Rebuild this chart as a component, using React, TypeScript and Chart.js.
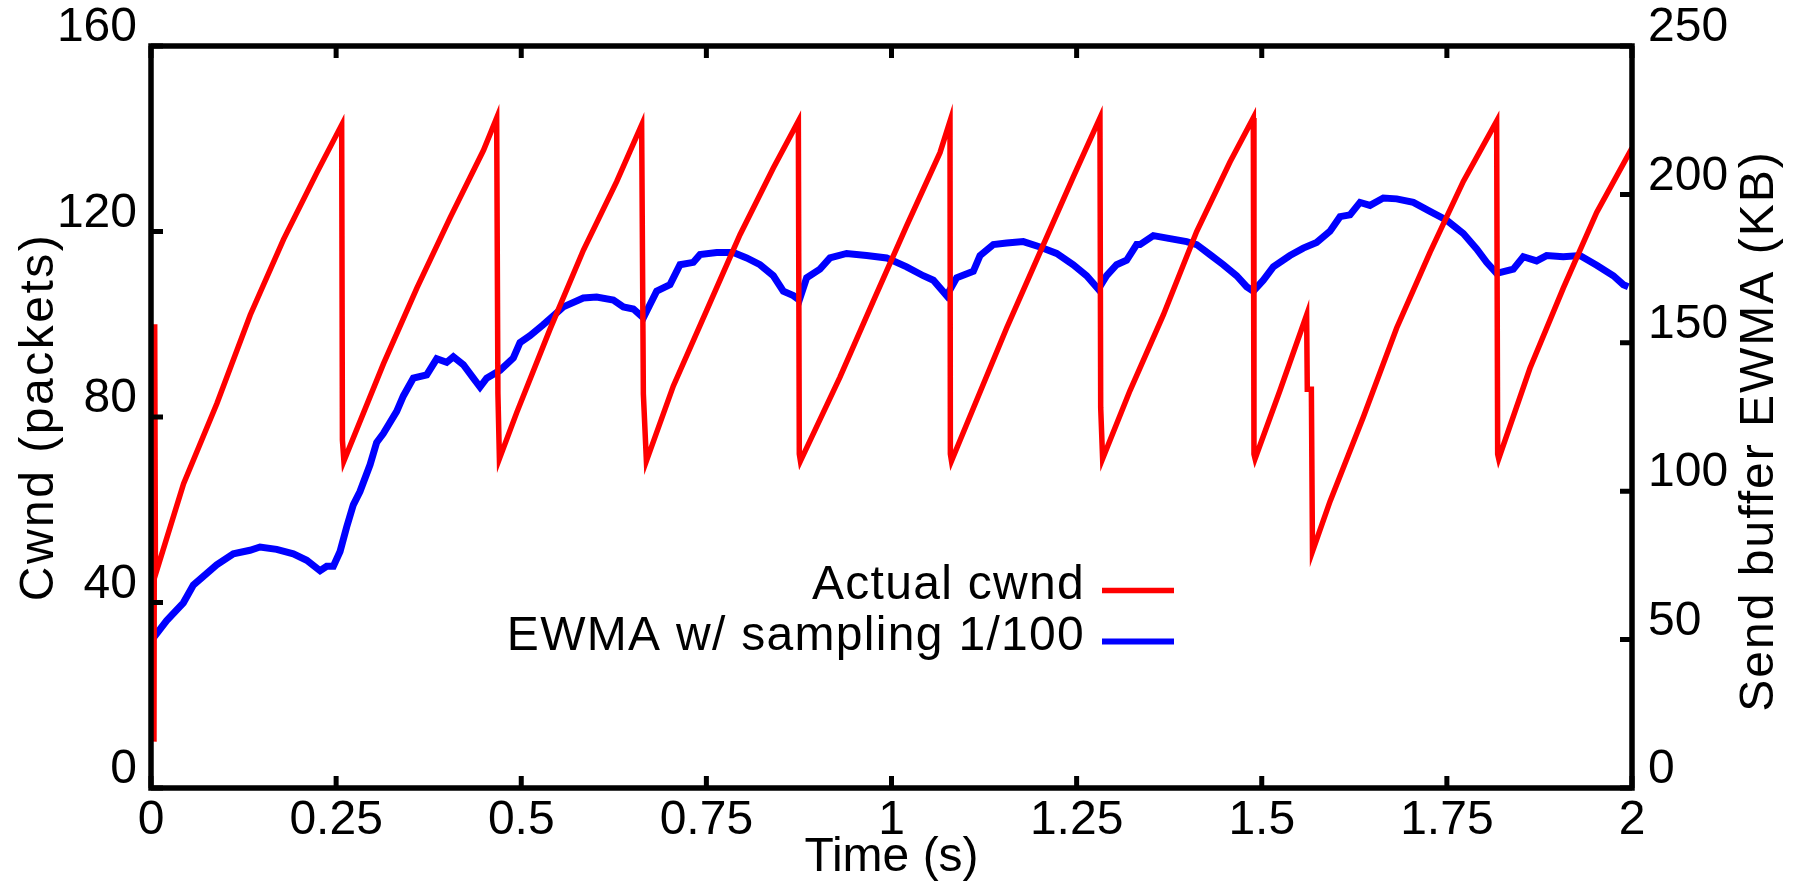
import React, { useEffect, useRef } from 'react';
import { Chart, registerables } from 'chart.js';

Chart.register(...registerables);

// ---- Data ----
const cwndTime = [
  0.004, 0.005, 0.006, 0.044, 0.089, 0.134, 0.179, 0.224, 0.2575,
  0.2585, 0.2605,
  0.314, 0.359, 0.404, 0.449, 0.4668,
  0.4685, 0.4705,
  0.494, 0.539, 0.584, 0.629, 0.6626,
  0.6649, 0.669,
  0.7054, 0.7504, 0.7954, 0.8404, 0.8742,
  0.8755, 0.877,
  0.9304, 0.9754, 1.0204, 1.0655, 1.079,
  1.0795, 1.081,
  1.1105, 1.1555, 1.2005, 1.2455, 1.2815,
  1.2825, 1.2851,
  1.3221, 1.3671, 1.4121, 1.4571, 1.4886,
  1.4895, 1.491,
  1.5246, 1.5606, 1.5615, 1.567, 1.5685,
  1.5922, 1.6372, 1.6822, 1.7272, 1.7722, 1.8172,
  1.8186, 1.82,
  1.8622, 1.9072, 1.9523, 2.0,
];
const cwndValues = [
  10, 100, 46, 65.6, 82.9, 102, 118.3, 132.7, 143,
  75, 70.5,
  91.5, 107.8, 123, 137.5, 144.5,
  85, 71,
  81, 99, 116, 130.8, 143,
  85, 70.5,
  86.7, 103, 119.3, 133.7, 143.8,
  72, 70.5,
  88.6, 105, 121.2, 137, 143.8,
  72, 70.5,
  81.9, 99.2, 115.5, 131.8, 144.5,
  82, 71,
  85.7, 102, 120, 135, 144.5,
  72, 71,
  85.7, 102, 86, 86, 51,
  61.8, 80, 99.2, 115.5, 130.8, 143.8,
  72, 71,
  90.5, 107.8, 124.1, 138,
];

const ewmaTime = [
  0.003, 0.0212, 0.0437, 0.0572, 0.0887, 0.1112, 0.1337, 0.1472, 0.1697, 0.1922,
  0.2103, 0.2283, 0.2373, 0.2463, 0.2553, 0.2642, 0.2732, 0.2822, 0.2958, 0.3047,
  0.3137, 0.3318, 0.3408, 0.3543, 0.3723, 0.3858, 0.3993, 0.4083, 0.4218, 0.4353,
  0.4443, 0.4533, 0.4713, 0.4893, 0.4983, 0.5118, 0.5298, 0.5433, 0.5568, 0.5838,
  0.6018, 0.6244, 0.6379, 0.6514, 0.6649, 0.6739, 0.6829, 0.7009, 0.7144, 0.7324,
  0.7414, 0.7639, 0.7864, 0.8044, 0.8224, 0.8404, 0.8539, 0.8674, 0.8755, 0.8854,
  0.9034, 0.9169, 0.9394, 0.9664, 0.9934, 1.0204, 1.0429, 1.0565, 1.0745, 1.088,
  1.1105, 1.1195, 1.1375, 1.1555, 1.178, 1.2005, 1.223, 1.2455, 1.2635, 1.2793,
  1.2905, 1.304, 1.3175, 1.331, 1.3356, 1.3536, 1.3761, 1.3986, 1.4121, 1.4301,
  1.4481, 1.4661, 1.4796, 1.4886, 1.5021, 1.5156, 1.5381, 1.5561, 1.5741, 1.5922,
  1.6057, 1.6192, 1.6327, 1.6462, 1.6642, 1.6822, 1.7047, 1.7272, 1.7497, 1.7722,
  1.7902, 1.8037, 1.8172, 1.8397, 1.8532, 1.8712, 1.8847, 1.9072, 1.9297, 1.9523,
  1.9748, 1.9883, 1.995,
];
const ewmaValues = [
  50.5, 56.4, 62.4, 68.4, 75.2, 78.9, 80.1, 81.2, 80.4, 78.9,
  76.7, 73.2, 74.7, 74.7, 79.7, 87.9, 95.4, 99.9, 108.9, 116.4,
  119.4, 126.9, 132.1, 138.1, 139.2, 144.6, 143.4, 145.3, 142.6, 138.1,
  135.1, 138.1, 140.7, 144.9, 150.1, 152.4, 156.1, 159.1, 162.1, 165.1,
  165.4, 164.4, 162.1, 161.4, 158.4, 162.9, 167.4, 169.6, 176.3, 177.1,
  179.7, 180.4, 180.4, 178.6, 176.3, 172.6, 167.4, 165.9, 164.4, 171.9,
  174.8, 178.6, 180.1, 179.4, 178.6, 175.6, 172.6, 171.1, 165.9, 171.9,
  174.1, 179.4, 183.1, 183.6, 184.1, 182.3, 180.1, 176.3, 172.6, 168.1,
  172.6, 176.3, 177.8, 183.1, 183.1, 186.1, 185.1, 184.1, 183.1, 179.7,
  176.3, 172.6, 168.9, 167.4, 171.1, 175.6, 179.4, 181.9, 183.8, 187.6,
  192.5, 193.1, 197.3, 196.3, 198.8, 198.5, 197.3, 194.3, 191.3, 186.8,
  181.6, 177.1, 173.4, 174.8, 179.0, 177.6, 179.4, 179.0, 179.4, 176.1,
  172.6, 169.6, 168.9,
];

const xTicks = [0, 0.25, 0.5, 0.75, 1, 1.25, 1.5, 1.75, 2];
const yTicks = [0, 40, 80, 120, 160];
const y2Ticks = [0, 50, 100, 150, 200, 250];
const seriesLabels = ['Actual cwnd', 'EWMA w/ sampling 1/100'];
const seriesColors = ['#ff0000', '#0000ff'];
const xTitle = 'Time (s)';
const yTitle = 'Cwnd (packets)';
const y2Title = 'Send buffer EWMA (KB)';

const FONT_FAMILY = '"Liberation Sans", Arial, sans-serif';
const FONT_SIZE = 48;

function drawVerticalTitle(ctx: any, text: string, x: number, y: number, spacing: number) {
  ctx.save();
  ctx.translate(x, y);
  ctx.rotate(-Math.PI / 2);
  ctx.font = `${FONT_SIZE}px ${FONT_FAMILY}`;
  try { ctx.letterSpacing = `${spacing}px`; } catch (e) { /* ignore */ }
  ctx.textAlign = 'center';
  ctx.textBaseline = 'middle';
  ctx.fillStyle = '#000';
  ctx.fillText(text, 0, 0);
  ctx.restore();
}

const framePlugin = {
  id: 'gnuFrame',
  afterDatasetsDraw(chart: any) {
    const { ctx, chartArea: a, scales } = chart;
    const tick = 12;
    ctx.save();
    ctx.strokeStyle = '#000';
    ctx.lineCap = 'butt';
    ctx.lineWidth = 5;
    ctx.beginPath();
    scales.x.ticks.forEach((t: any) => {
      const px = scales.x.getPixelForValue(t.value);
      ctx.moveTo(px, a.bottom);
      ctx.lineTo(px, a.bottom - tick);
      ctx.moveTo(px, a.top);
      ctx.lineTo(px, a.top + tick);
    });
    scales.y.ticks.forEach((t: any) => {
      const py = scales.y.getPixelForValue(t.value);
      ctx.moveTo(a.left, py);
      ctx.lineTo(a.left + tick, py);
    });
    scales.y2.ticks.forEach((t: any) => {
      const py = scales.y2.getPixelForValue(t.value);
      ctx.moveTo(a.right, py);
      ctx.lineTo(a.right - tick, py);
    });
    ctx.stroke();
    ctx.lineWidth = 5.5;
    ctx.lineJoin = 'miter';
    ctx.strokeRect(a.left, a.top, a.right - a.left, a.bottom - a.top);

    // Legend (gnuplot style: right-aligned text, sample line on the right)
    ctx.save();
    ctx.font = `${FONT_SIZE}px ${FONT_FAMILY}`;
    try { ctx.letterSpacing = '1.3px'; } catch (e) { /* ignore */ }
    ctx.fillStyle = '#000';
    ctx.textAlign = 'right';
    ctx.textBaseline = 'alphabetic';
    const textRight = 1085;
    const lineStart = 1102;
    const lineEnd = 1174;
    const baseY = 599;
    const rowGap = 51;
    chart.data.datasets.forEach((ds: any, i: number) => {
      const by = baseY + i * rowGap;
      ctx.fillText(ds.label, textRight, by);
      ctx.strokeStyle = ds.borderColor;
      ctx.lineWidth = i === 0 ? 5.5 : 6;
      ctx.beginPath();
      ctx.moveTo(lineStart, by - 8.5);
      ctx.lineTo(lineEnd, by - 8.5);
      ctx.stroke();
    });
    ctx.restore();
    ctx.restore();

    // Axis titles for the two vertical axes, both reading bottom to top
    drawVerticalTitle(ctx, yTitle, 40, (a.top + a.bottom) / 2, 2.5);
    drawVerticalTitle(ctx, y2Title, 1760, 431, 2);
  },
};

export default function App() {
  const canvasRef = useRef<HTMLCanvasElement | null>(null);

  useEffect(() => {
    document.body.style.margin = '0';
    const canvas = canvasRef.current;
    if (!canvas) return;
    const font = { family: FONT_FAMILY, size: FONT_SIZE };
    const chart = new Chart(canvas, {
      type: 'line',
      data: {
        datasets: [
          {
            label: seriesLabels[0],
            data: cwndTime.map((t, i) => ({ x: t, y: cwndValues[i] })),
            borderColor: seriesColors[0],
            backgroundColor: seriesColors[0],
            borderWidth: 5.5,
            pointRadius: 0,
            tension: 0,
            yAxisID: 'y',
          },
          {
            label: seriesLabels[1],
            data: ewmaTime.map((t, i) => ({ x: t, y: ewmaValues[i] })),
            borderColor: seriesColors[1],
            backgroundColor: seriesColors[1],
            borderWidth: 7,
            pointRadius: 0,
            tension: 0,
            yAxisID: 'y2',
          },
        ],
      },
      options: {
        animation: false,
        responsive: false,
        devicePixelRatio: 1,
        events: [],
        layout: { padding: { top: 46, left: 0, right: 0, bottom: 0 } },
        plugins: { legend: { display: false }, tooltip: { enabled: false } },
        scales: {
          x: {
            type: 'linear',
            position: 'bottom',
            min: 0,
            max: 2,
            grid: { display: false, drawTicks: false },
            border: { display: false },
            ticks: { font, color: '#000', padding: 4, autoSkip: false, maxRotation: 0, callback: (v: any) => String(v) },
            title: { display: true, text: xTitle, font, color: '#000', padding: { top: 0, bottom: 0 } },
            afterBuildTicks: (s: any) => { s.ticks = xTicks.map((v) => ({ value: v })); },
            afterFit: (s: any) => { s.height = 99; },
          },
          y: {
            type: 'linear',
            position: 'left',
            min: 0,
            max: 160,
            grid: { display: false, drawTicks: false },
            border: { display: false },
            ticks: { font, color: '#000', padding: 14, labelOffset: -18, autoSkip: false },
            afterBuildTicks: (s: any) => { s.ticks = yTicks.map((v) => ({ value: v })); },
            afterFit: (s: any) => { s.width = 151; },
          },
          y2: {
            type: 'linear',
            position: 'right',
            min: 0,
            max: 250,
            grid: { display: false, drawTicks: false },
            border: { display: false },
            ticks: { font, color: '#000', padding: 16, labelOffset: -18, autoSkip: false },
            afterBuildTicks: (s: any) => { s.ticks = y2Ticks.map((v) => ({ value: v })); },
            afterFit: (s: any) => { s.width = 173; },
          },
        },
      },
      plugins: [framePlugin],
    });
    return () => chart.destroy();
  }, []);

  return (
    <div style={{ width: 1805, height: 887, background: '#fff' }}>
      <canvas ref={canvasRef} width={1805} height={887} style={{ display: 'block' }} />
    </div>
  );
}
